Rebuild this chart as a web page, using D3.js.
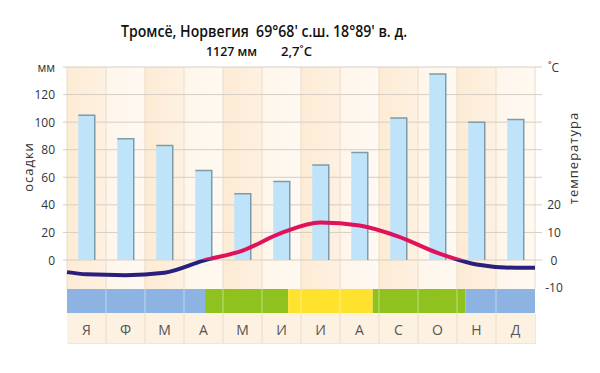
<!DOCTYPE html>
<html><head><meta charset="utf-8">
<script src="https://cdn.jsdelivr.net/npm/d3@7"></script>
<style>
body{margin:0;background:#fff}
svg text{font-family:"Open Sans",sans-serif}
</style>
</head><body>
<svg id="chart" width="600" height="373"></svg>
<script>
// ---- data ----
const months = ["Я","Ф","М","А","М","И","И","А","С","О","Н","Д"];
const precipitation = [105, 88, 83, 65, 48, 57, 69, 78, 103, 135, 100, 102];
// temperature curve points, positions in month units (0 = start of Jan, 12 = end of Dec)
const tempPositions = [0, 0.5, 1.5, 2.5, 3.5, 4.5, 5.5, 6.5, 7.5, 8.5, 9.5, 10.5, 11.5, 12];
const temperatures  = [-4.4, -5.2, -5.5, -4.6, -0.2, 3.4, 9.8, 13.6, 12.5, 8.5, 2.6, -1.6, -2.8, -2.8];
const precipTicks = [0, 20, 40, 60, 80, 100, 120];
const tempTicks = [-10, 0, 10, 20];
const seasonStarts = [0, 3.54, 5.67, 7.84, 10.22];
const seasonEnds   = [3.54, 5.67, 7.84, 10.22, 12];
const seasonKinds  = ["cold", "mild", "warm", "mild", "cold"];
const titleText = "Тромсё, Норвегия  69°68' с.ш. 18°89' в. д.";
const totalText = "1127 мм";
const meanText = "2,7˚C";

// ---- layout ----
const svg = d3.select("#chart");
const L = 67, R = 535, plotTop = 67, bandTop = 289, bandBottom = 313, rowBottom = 343;
const x = d3.scaleLinear().domain([0, 12]).range([L, R]);
const col = d3.scaleBand().domain(d3.range(12)).range([L, R]);
const yP = d3.scaleLinear().domain([0, 140]).range([260, plotTop]);
const yT = d3.scaleLinear().domain([0, 10]).range([260, yP(20)]);
const seasonColor = {cold: "#8cb3e2", mild: "#90c21f", warm: "#ffe22e"};

const defs = svg.append("defs");
const g1 = defs.append("linearGradient").attr("id", "colA");
g1.append("stop").attr("offset", "0%").attr("stop-color", "#fdebd4");
g1.append("stop").attr("offset", "100%").attr("stop-color", "#fdf1e2");
const g2 = defs.append("linearGradient").attr("id", "colB");
g2.append("stop").attr("offset", "0%").attr("stop-color", "#fef6eb");
g2.append("stop").attr("offset", "100%").attr("stop-color", "#fef9f2");

// column backgrounds
svg.append("g").selectAll("rect").data(months).join("rect")
  .attr("x", (d, i) => col(i)).attr("y", plotTop)
  .attr("width", col.bandwidth()).attr("height", bandTop - plotTop)
  .attr("fill", (d, i) => i % 2 === 0 ? "url(#colA)" : "url(#colB)");

// vertical separators
svg.append("g").selectAll("line").data(d3.range(13)).join("line")
  .attr("x1", d => x(d)).attr("x2", d => x(d))
  .attr("y1", plotTop).attr("y2", bandTop)
  .attr("stroke", "#ecdcc6").attr("stroke-width", 1);

// horizontal gridlines
svg.append("g").selectAll("line").data(precipTicks.concat([140])).join("line")
  .attr("x1", L - 4).attr("x2", R + 7)
  .attr("y1", d => yP(d)).attr("y2", d => yP(d))
  .attr("stroke", "#d6cec4").attr("stroke-width", 1);

// bars
const barW = 16.5;
const bars = svg.append("g").selectAll("g").data(precipitation).join("g");
bars.append("rect")
  .attr("x", (d, i) => col(i) + col.bandwidth() / 2 - barW / 2)
  .attr("y", d => yP(d)).attr("width", barW).attr("height", d => yP(0) - yP(d))
  .attr("fill", "#bfe3f8");
bars.append("path")
  .attr("d", (d, i) => {
    const x0 = col(i) + col.bandwidth() / 2 - barW / 2, x1 = x0 + barW;
    return `M${x0},${yP(d)}H${x1}V${yP(0)}`;
  })
  .attr("fill", "none").attr("stroke", "#7d9cab").attr("stroke-width", 1.5);

// temperature line, split at 0°C
const pts = tempPositions.map((p, i) => [p, temperatures[i]]);
const line = d3.line().x(d => x(d[0])).y(d => yT(d[1])).curve(d3.curveMonotoneX);
defs.append("clipPath").attr("id", "above").append("rect")
  .attr("x", 0).attr("y", 0).attr("width", 600).attr("height", yT(0));
defs.append("clipPath").attr("id", "below").append("rect")
  .attr("x", 0).attr("y", yT(0)).attr("width", 600).attr("height", 200);
svg.append("path").datum(pts).attr("d", line).attr("fill", "none")
  .attr("stroke", "#e0125c").attr("stroke-width", 4).attr("clip-path", "url(#above)");
svg.append("path").datum(pts).attr("d", line).attr("fill", "none")
  .attr("stroke", "#2a1f7c").attr("stroke-width", 4).attr("clip-path", "url(#below)");

// season band
svg.append("g").selectAll("rect").data(seasonKinds).join("rect")
  .attr("x", (d, i) => x(seasonStarts[i])).attr("y", bandTop)
  .attr("width", (d, i) => x(seasonEnds[i]) - x(seasonStarts[i]))
  .attr("height", bandBottom - bandTop)
  .attr("fill", d => seasonColor[d]);
svg.append("g").selectAll("line").data(d3.range(1, 12)).join("line")
  .attr("x1", d => x(d)).attr("x2", d => x(d))
  .attr("y1", bandTop).attr("y2", bandBottom)
  .attr("stroke", "#ffffff").attr("stroke-opacity", 0.45).attr("stroke-width", 1);

// month label row
svg.append("rect").attr("x", L + 1).attr("y", bandBottom + 1).attr("width", R - L).attr("height", rowBottom - bandBottom)
  .attr("fill", "#f3e6d6");
svg.append("rect").attr("x", L).attr("y", bandBottom).attr("width", R - L).attr("height", rowBottom - bandBottom)
  .attr("fill", "#fdf1e2");
svg.append("g").selectAll("line").data(d3.range(1, 12)).join("line")
  .attr("x1", d => x(d)).attr("x2", d => x(d))
  .attr("y1", bandBottom).attr("y2", rowBottom)
  .attr("stroke", "#eddcc6").attr("stroke-width", 1);
svg.append("g").selectAll("text").data(months).join("text")
  .attr("x", (d, i) => col(i) + col.bandwidth() / 2).attr("y", 335)
  .attr("text-anchor", "middle").attr("font-size", 14).attr("fill", "#555")
  .text(d => d);

// left axis labels
svg.append("g").selectAll("text").data(precipTicks).join("text")
  .attr("x", 55).attr("y", d => yP(d) + 4.5)
  .attr("text-anchor", "end").attr("font-size", 12).attr("fill", "#333")
  .text(d => d);
svg.append("text").attr("x", 55).attr("y", yP(140) + 4.5).attr("text-anchor", "end")
  .attr("font-size", 12).attr("fill", "#333").text("мм");
svg.append("text").attr("transform", "translate(33,167) rotate(-90)")
  .attr("text-anchor", "middle").attr("font-size", 13).attr("fill", "#333")
  .attr("letter-spacing", 1).text("осадки");

// right axis labels
svg.append("g").selectAll("text").data(tempTicks).join("text")
  .attr("x", 554).attr("y", d => yT(d) + 4.5)
  .attr("text-anchor", "middle").attr("font-size", 12).attr("fill", "#333")
  .text(d => d);
svg.append("text").attr("x", 548).attr("y", yP(140) + 4.5)
  .attr("font-size", 12).attr("fill", "#333").text("˚C");
svg.append("text").attr("transform", "translate(578,158) rotate(-90)")
  .attr("text-anchor", "middle").attr("font-size", 13).attr("fill", "#333")
  .attr("letter-spacing", 1).text("температура");

// titles
svg.append("text").attr("x", 121).attr("y", 37)
  .attr("font-size", 16.5).attr("font-weight", 600).attr("fill", "#111")
  .attr("textLength", 286).attr("lengthAdjust", "spacingAndGlyphs")
  .style("white-space", "pre").text(titleText);
svg.append("text").attr("x", 206).attr("y", 56).attr("font-size", 13).attr("font-weight", 600)
  .attr("fill", "#111").attr("textLength", 51).attr("lengthAdjust", "spacingAndGlyphs").text(totalText);
svg.append("text").attr("x", 281).attr("y", 56).attr("font-size", 13).attr("font-weight", 600)
  .attr("fill", "#111").attr("textLength", 31).attr("lengthAdjust", "spacingAndGlyphs").text(meanText);
</script>
</body></html>
